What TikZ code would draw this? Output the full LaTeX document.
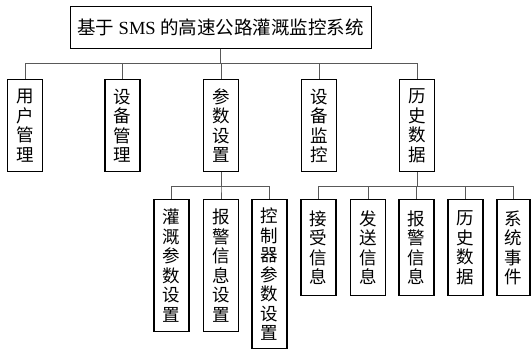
\documentclass[tikz,border=0pt]{standalone}
\usepackage{fontspec}
\setmainfont{Liberation Serif}
\newfontfamily\cjk{Noto Sans CJK SC}
\tikzset{
  vbox/.style={draw=black, line width=1.4pt, minimum width=35pt, inner sep=0pt, anchor=north,
    align=center, font=\cjk\fontsize{17.5}{19.5}\selectfont},
  tbox/.style={draw=black, line width=1pt, minimum width=301pt, minimum height=42pt, inner sep=0pt,
    anchor=north, font=\fontsize{18.5}{20}\selectfont},
  conn/.style={draw=black!65, line width=0.8pt}
}
\begin{document}
\begin{tikzpicture}[x=1pt,y=-1pt]
\useasboundingbox (0,0) rectangle (531,350);
\node[tbox] (title) at (220.5,6) {{\cjk 基于} SMS {\cjk 的高速公路灌溉监控系统}};
% level 1
\node[vbox, minimum height=92pt] (p1) at (25,79) {用\\户\\管\\理};
\node[vbox, minimum height=92pt] (p2) at (122.5,79) {设\\备\\管\\理};
\node[vbox, minimum height=92pt] (p3) at (221,79) {参\\数\\设\\置};
\node[vbox, minimum height=92pt] (p4) at (319,79) {设\\备\\监\\控};
\node[vbox, minimum height=92pt] (p5) at (417,79) {历\\史\\数\\据};
% level 2 under p3
\node[vbox, minimum height=132pt] (a1) at (171.5,199) {灌\\溉\\参\\数\\设\\置};
\node[vbox, minimum height=132pt] (a2) at (221,199) {报\\警\\信\\息\\设\\置};
\node[vbox, minimum height=149pt] (a3) at (269.5,199) {控\\制\\器\\参\\数\\设\\置};
% level 2 under p5
\node[vbox, minimum height=96pt] (b1) at (318.5,199) {接\\受\\信\\息};
\node[vbox, minimum height=96pt] (b2) at (368,199) {发\\送\\信\\息};
\node[vbox, minimum height=96pt] (b3) at (416.5,199) {报\\警\\信\\息};
\node[vbox, minimum height=96pt] (b4) at (465.5,199) {历\\史\\数\\据};
\node[vbox, minimum height=96pt, minimum width=33pt] (b5) at (513.5,199) {系\\统\\事\\件};
% connectors
\foreach \c in {p1,p2,p3,p4,p5}
  \draw[conn] (title.south) -- ++(0,14) -| (\c.north);
\foreach \c in {a1,a2,a3}
  \draw[conn] (p3.south) -- ++(0,14) -| (\c.north);
\foreach \c in {b1,b2,b3,b4,b5}
  \draw[conn] (p5.south) -- ++(0,14) -| (\c.north);
\end{tikzpicture}
\end{document}
